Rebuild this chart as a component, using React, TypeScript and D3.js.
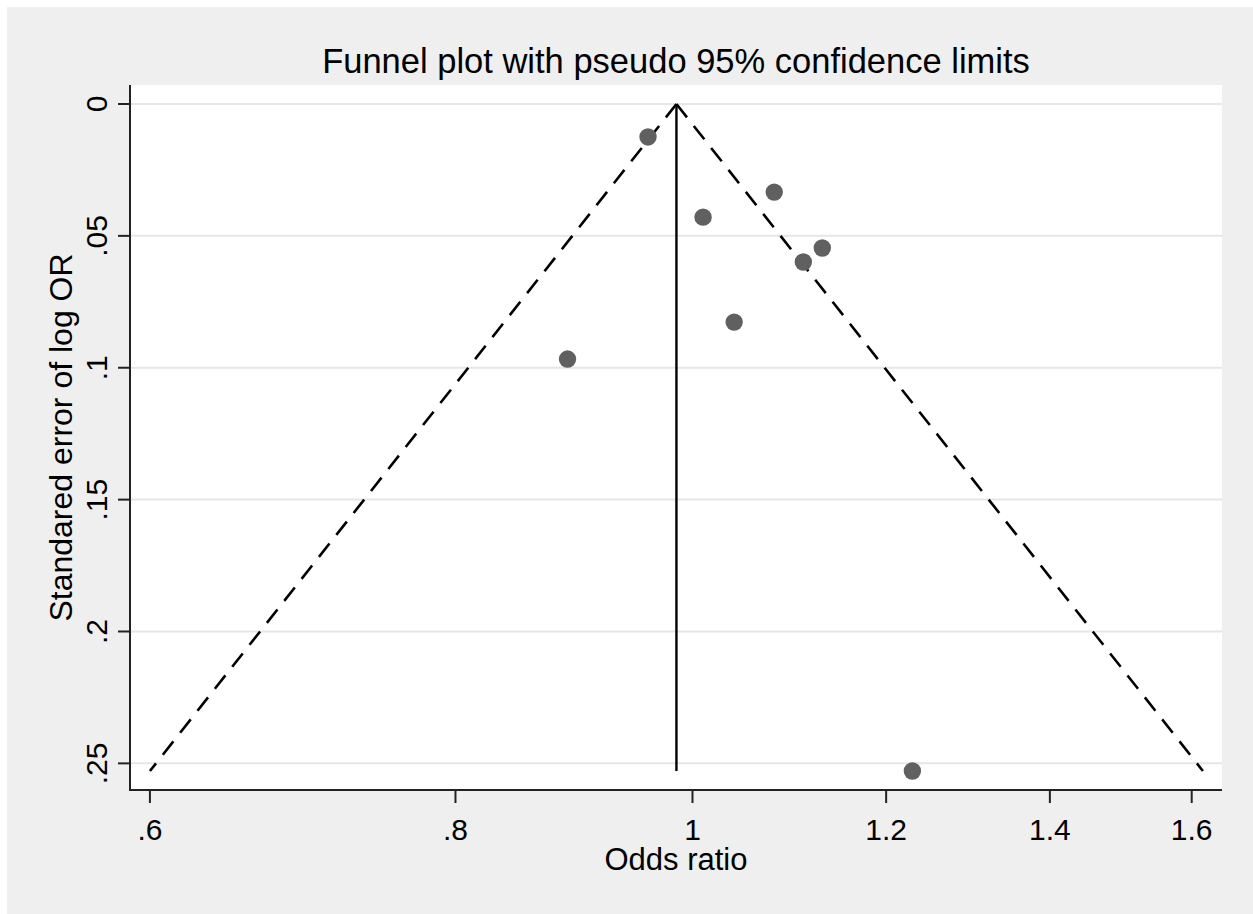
import React from "react";
import * as d3 from "d3";

const studyOR = [0.959, 1.08, 1.01, 1.13, 1.11, 1.04, 0.889, 1.23];
const studySE = [0.0125, 0.0334, 0.0429, 0.0546, 0.0599, 0.0827, 0.0967, 0.2529];
const pooledOR = 0.985;
const xTicks = [0.6, 0.8, 1, 1.2, 1.4, 1.6];
const xTickLabels = [".6", ".8", "1", "1.2", "1.4", "1.6"];
const yTicks = [0, 0.05, 0.1, 0.15, 0.2, 0.25];
const yTickLabels = ["0", ".05", ".1", ".15", ".2", ".25"];
const titleText = "Funnel plot with pseudo 95% confidence limits";
const xTitle = "Odds ratio";
const yTitle = "Standared error of log OR";

const W = 1253;
const H = 914;
const L = 130, R = 1222, T = 85, B = 790;
const FONT = "'Liberation Sans', Arial, sans-serif";

export default function App() {
  const x = d3.scaleLog().domain([0.58885, 1.6463]).range([L, R]);
  const y = d3.scaleLinear().domain([-0.0072, 0.2601]).range([T, B]);
  const maxSE = d3.max(studySE) as number;
  const theta = Math.log(pooledOR);
  const line = d3
    .line<[number, number]>()
    .x((d) => x(Math.exp(d[0])))
    .y((d) => y(d[1]));
  const leftPts: [number, number][] = [
    [theta, 0],
    [theta - 1.96 * maxSE, maxSE],
  ];
  const rightPts: [number, number][] = [
    [theta, 0],
    [theta + 1.96 * maxSE, maxSE],
  ];
  const axisColor = "#222";
  return (
    <div style={{ position: "absolute", left: 0, top: 0 }}>
      <svg width={W} height={H} style={{ display: "block" }}>
        <rect x={0} y={0} width={W} height={H} fill="#ffffff" />
        <rect x={7} y={7} width={W - 7} height={H - 7} fill="#efefef" />
        <rect x={L} y={T} width={R - L} height={B - T} fill="#ffffff" />
        {yTicks.map((t) => (
          <line
            key={"g" + t}
            x1={L}
            x2={R}
            y1={y(t)}
            y2={y(t)}
            stroke="#e6e6e6"
            strokeWidth={2}
          />
        ))}
        <path
          d={line(leftPts) || ""}
          fill="none"
          stroke="#000"
          strokeWidth={2.6}
          strokeDasharray="17 11"
        />
        <path
          d={line(rightPts) || ""}
          fill="none"
          stroke="#000"
          strokeWidth={2.6}
          strokeDasharray="17 11"
        />
        <line
          x1={x(pooledOR)}
          x2={x(pooledOR)}
          y1={y(0)}
          y2={y(maxSE)}
          stroke="#000"
          strokeWidth={2.4}
        />
        {studyOR.map((o, i) => (
          <circle
            key={"p" + i}
            cx={x(o)}
            cy={y(studySE[i])}
            r={8.7}
            fill="#606060"
          />
        ))}
        <line x1={L} x2={L} y1={T} y2={B + 1} stroke={axisColor} strokeWidth={2} />
        <line x1={L - 1} x2={R} y1={B} y2={B} stroke={axisColor} strokeWidth={2} />
        {yTicks.map((t, i) => (
          <g key={"yt" + t}>
            <line x1={L - 12} x2={L} y1={y(t)} y2={y(t)} stroke={axisColor} strokeWidth={2} />
            <text
              transform={`translate(107,${y(t)}) rotate(-90)`}
              textAnchor="middle"
              fontFamily={FONT}
              fontSize={30}
              fill="#000"
            >
              {yTickLabels[i]}
            </text>
          </g>
        ))}
        {xTicks.map((t, i) => (
          <g key={"xt" + t}>
            <line x1={x(t)} x2={x(t)} y1={B} y2={B + 13} stroke={axisColor} strokeWidth={2} />
            <text
              x={x(t)}
              y={840}
              textAnchor="middle"
              fontFamily={FONT}
              fontSize={30}
              fill="#000"
            >
              {xTickLabels[i]}
            </text>
          </g>
        ))}
        <text
          x={(L + R) / 2}
          y={870}
          textAnchor="middle"
          fontFamily={FONT}
          fontSize={31}
          fill="#000"
        >
          {xTitle}
        </text>
        <text
          transform={`translate(72,${(T + B) / 2}) rotate(-90)`}
          textAnchor="middle"
          fontFamily={FONT}
          fontSize={32}
          fill="#000"
        >
          {yTitle}
        </text>
        <text
          x={(L + R) / 2}
          y={73}
          textAnchor="middle"
          fontFamily={FONT}
          fontSize={34.5}
          fill="#000"
        >
          {titleText}
        </text>
      </svg>
    </div>
  );
}
